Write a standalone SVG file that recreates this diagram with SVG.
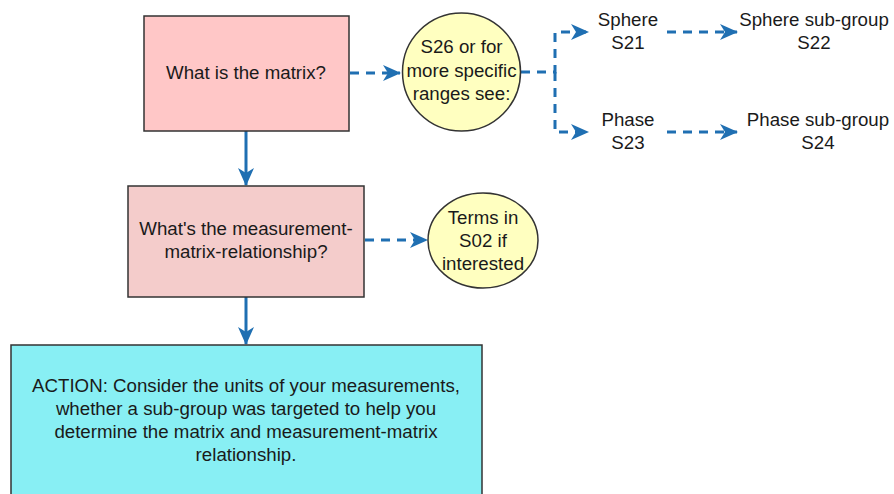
<svg xmlns="http://www.w3.org/2000/svg" width="894" height="494" viewBox="0 0 894 494">
<style>
  text { font-family: "Liberation Sans", Arial, sans-serif; font-size: 18.7px; fill: #1a1a1a; text-anchor: middle; }
  .box { stroke: #333333; stroke-width: 1.5; }
  .conn { fill: none; stroke: #1f6fb2; stroke-width: 3; }
  .dash { stroke-dasharray: 9 7; }
</style>
<defs>
  <marker id="ah" viewBox="0 0 18 16" refX="17" refY="8" markerWidth="18" markerHeight="16" markerUnits="userSpaceOnUse" orient="auto">
    <path d="M0,0 L18,8 L0,16 L5,8 Z" fill="#1f6fb2"/>
  </marker>
</defs>
<rect width="894" height="494" fill="#ffffff"/>
<g id="connectors">
  <path class="conn" d="M246,131 V185" marker-end="url(#ah)"/>
  <path class="conn" d="M246,297 V344" marker-end="url(#ah)"/>
  <path class="conn dash" d="M350,73 H400" marker-end="url(#ah)"/>
  <path class="conn dash" d="M521,72 H555 V32 H588" marker-end="url(#ah)"/>
  <path class="conn dash" d="M555,72 V132 H588" marker-end="url(#ah)"/>
  <path class="conn dash" d="M667,32 H737" marker-end="url(#ah)"/>
  <path class="conn dash" d="M667,132 H737" marker-end="url(#ah)"/>
  <path class="conn dash" d="M365,240 H427" marker-end="url(#ah)"/>
</g>
<g id="matrix">
  <rect class="box" x="144" y="16" width="205" height="115" fill="#ffc7c7"/>
  <text x="246" y="79">What is the matrix?</text>
</g>
<g id="s26">
  <circle class="box" cx="461.5" cy="72" r="59" fill="#ffffc0"/>
  <text x="461.5" y="53">S26 or for</text>
  <text x="461.5" y="77">more specific</text>
  <text x="461.5" y="100">ranges see:</text>
</g>
<g id="sphere">
  <text x="628" y="26">Sphere</text>
  <text x="628" y="49">S21</text>
</g>
<g id="sphere-sub">
  <text x="814" y="26">Sphere sub-group</text>
  <text x="814" y="49">S22</text>
</g>
<g id="phase">
  <text x="628" y="126">Phase</text>
  <text x="628" y="149">S23</text>
</g>
<g id="phase-sub">
  <text x="818" y="126">Phase sub-group</text>
  <text x="818" y="149">S24</text>
</g>
<g id="relationship">
  <rect class="box" x="128" y="186" width="236" height="111" fill="#f4cccb"/>
  <text x="246" y="235">What's the measurement-</text>
  <text x="246" y="258">matrix-relationship?</text>
</g>
<g id="s02">
  <ellipse class="box" cx="483" cy="240.5" rx="55" ry="47.5" fill="#ffffc0"/>
  <text x="483" y="224">Terms in</text>
  <text x="483" y="247">S02 if</text>
  <text x="483" y="270">interested</text>
</g>
<g id="action">
  <rect class="box" x="11" y="345" width="471" height="160" fill="#88eff4"/>
  <text x="246" y="392">ACTION: Consider the units of your measurements,</text>
  <text x="246" y="415">whether a sub-group was targeted to help you</text>
  <text x="246" y="438">determine the matrix and measurement-matrix</text>
  <text x="246" y="461">relationship.</text>
</g>
</svg>
